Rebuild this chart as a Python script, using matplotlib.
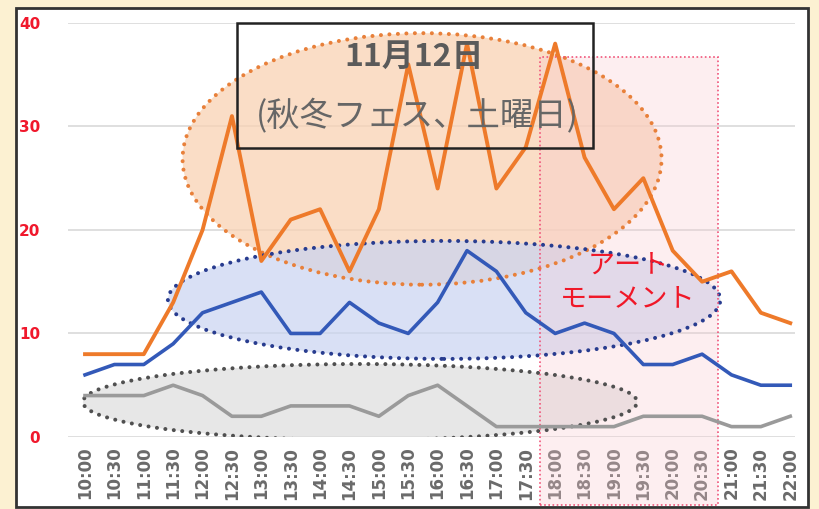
import matplotlib
matplotlib.use("Agg")
import matplotlib.pyplot as plt
from matplotlib.patches import Ellipse, Rectangle

plt.rcParams["font.family"] = ["Noto Sans CJK JP", "DejaVu Sans"]

# 30-minute time slots, 11/12
times = ["10:00", "10:30", "11:00", "11:30", "12:00", "12:30", "13:00", "13:30",
         "14:00", "14:30", "15:00", "15:30", "16:00", "16:30", "17:00", "17:30",
         "18:00", "18:30", "19:00", "19:30", "20:00", "20:30", "21:00", "21:30",
         "22:00"]
orange_vals = [8, 8, 8, 13, 20, 31, 17, 21, 22, 16, 22, 36, 24, 38, 24, 28,
               38, 27, 22, 25, 18, 15, 16, 12, 11]
blue_vals = [6, 7, 7, 9, 12, 13, 14, 10, 10, 13, 11, 10, 13, 18, 16, 12,
             10, 11, 10, 7, 7, 8, 6, 5, 5]
gray_vals = [4, 4, 4, 5, 4, 2, 2, 3, 3, 3, 2, 4, 5, 3, 1, 1,
             1, 1, 1, 2, 2, 2, 1, 1, 2]
yticks = [0, 10, 20, 30, 40]

fig = plt.figure(figsize=(8.19, 5.09), dpi=100, facecolor="#fcf1d2")
fig.patches.append(Rectangle((0.019, 0.004), 0.968, 0.98, transform=fig.transFigure,
                             facecolor="white", edgecolor="#333333", linewidth=2,
                             zorder=-1))

ax = fig.add_axes([0.083, 0.1415, 0.888, 0.8135])
ax.set_facecolor("none")
x = list(range(len(times)))

dots = (0, (0.01, 2.1))
# highlighted groups
ax.add_patch(Ellipse((11.47, 26.86), 16.3, 24.3, facecolor="#f9d2b4", alpha=0.75,
                     edgecolor="none", zorder=1))
ax.add_patch(Ellipse((11.47, 26.86), 16.3, 24.3, facecolor="none", edgecolor="#e8803a",
                     linewidth=2.9, linestyle=dots, capstyle="round", zorder=3))
ax.add_patch(Ellipse((12.22, 13.24), 18.8, 11.4, facecolor="#c9d4f1", alpha=0.7,
                     edgecolor="none", zorder=1))
ax.add_patch(Ellipse((12.22, 13.24), 18.8, 11.4, facecolor="none", edgecolor="#283c8f",
                     linewidth=2.9, linestyle=dots, capstyle="round", zorder=3))
ax.add_patch(Ellipse((9.36, 3.38), 18.86, 7.34, facecolor="#dedede", alpha=0.7,
                     edgecolor="none", zorder=1))
ax.add_patch(Ellipse((9.36, 3.38), 18.86, 7.34, facecolor="none", edgecolor="#505050",
                     linewidth=2.9, linestyle=dots, capstyle="round", zorder=3))

# art moment period
ax.add_patch(Rectangle((15.49, -6.6), 6.06, 43.3, facecolor="#f9c9cf", alpha=0.3,
                       edgecolor="none", clip_on=False, zorder=2))
ax.add_patch(Rectangle((15.49, -6.6), 6.06, 43.3, facecolor="none", edgecolor="#f0557a",
                       linewidth=1.2, linestyle=(0, (1, 1.5)), clip_on=False, zorder=3))

ax.plot(x, gray_vals, color="#9a9a9a", linewidth=2.6, zorder=4)
ax.plot(x, blue_vals, color="#3359b8", linewidth=2.6, zorder=4)
ax.plot(x, orange_vals, color="#ee7a2a", linewidth=2.8, zorder=5)

ax.add_patch(Rectangle((5.17, 27.9), 12.12, 12.1, facecolor="none", edgecolor="#222222",
                       linewidth=1.8, clip_on=False, zorder=6))
ax.text(11.2, 36.7, "11月12日", ha="center", va="center", fontsize=23,
        fontweight="bold", color="#5a5a5a", zorder=7)
ax.text(11.3, 30.9, "(秋冬フェス、土曜日)", ha="center", va="center", fontsize=24,
        color="#666666", zorder=7)
ax.text(18.48, 15.0, "アート\nモーメント", ha="center", va="center", fontsize=19.5,
        color="#f01828", linespacing=1.3, zorder=7)

ax.set_xlim(-0.58, 24.17)
ax.set_ylim(0, 40)
ax.set_yticks(yticks)
ax.set_xticks(x)
ax.set_xticklabels(times, rotation=90, fontsize=12, fontweight="bold", color="#6a6a6a",
                   family="DejaVu Sans")
ax.tick_params(axis="y", labelsize=11, labelcolor="#f0182c", length=0, pad=20)
ax.tick_params(axis="x", length=0, pad=7)
for lbl in ax.get_yticklabels():
    lbl.set_fontweight("bold")
    lbl.set_family("DejaVu Sans")
ax.grid(axis="y", color="#d9d9d9", linewidth=1.2, zorder=0)
ax.set_axisbelow(True)
for s in ax.spines.values():
    s.set_visible(False)

plt.savefig("out.png", dpi=100, facecolor=fig.get_facecolor())
